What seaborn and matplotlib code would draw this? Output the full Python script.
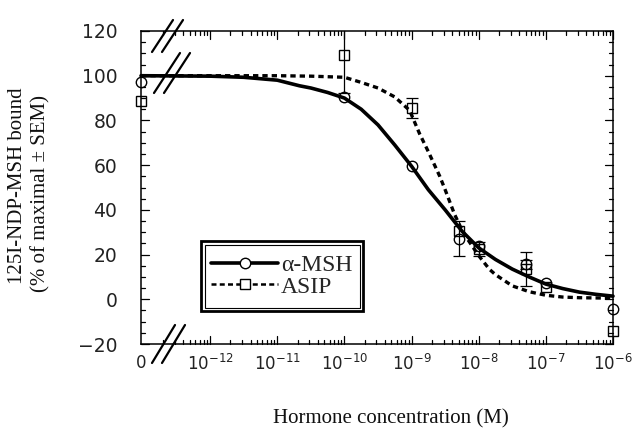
import numpy as np
import pandas as pd
import matplotlib
matplotlib.use("Agg")
import matplotlib.pyplot as plt
from matplotlib.lines import Line2D
from matplotlib.patches import Rectangle
import seaborn as sns

# ---------------- data ----------------
conc = [0, 1e-10, 1e-9, 5e-9, 1e-8, 5e-8, 1e-7, 1e-6]
msh_vals = [97.4, 90.7, 59.8, 27.1, 23.8, 15.7, 7.1, -4.4]
msh_err = [0, 0, 0, 7.7, 0, 2.0, 0, 0]
asip_vals = [88.5, 109.3, 85.7, 30.5, 22.5, 13.5, 5.3, -14.1]
asip_err = [0, 17.0, 4.5, 0, 3.0, 7.5, 0, 0]

# fitted curves (log10 concentration, % bound)
msh_curve_logx = [-13.03, -12.0, -11.5, -11.0, -10.67, -10.5, -10.25, -10.0, -9.75, -9.5,
                  -9.25, -9.0, -8.75, -8.5, -8.25, -8.0, -7.75, -7.5, -7.25, -7.0,
                  -6.75, -6.5, -6.25, -6.0]
msh_curve_y = [100.0, 99.8, 99.3, 98.0, 95.5, 94.5, 92.5, 90.0, 85.0, 78.0,
               69.0, 59.5, 49.0, 40.0, 30.5, 23.0, 17.8, 13.5, 10.0, 6.8,
               4.8, 3.2, 2.2, 1.4]
asip_curve_logx = [-13.03, -12.0, -11.0, -10.5, -10.0, -9.75, -9.5, -9.25, -9.03, -8.88,
                   -8.75, -8.58, -8.5, -8.36, -8.25, -8.18, -8.0, -7.84, -7.75, -7.5,
                   -7.25, -7.0, -6.75, -6.5, -6.0]
asip_curve_y = [100.0, 100.0, 100.0, 99.8, 99.3, 97.0, 94.5, 90.5, 84.5, 74.0,
                66.0, 55.0, 49.0, 38.0, 31.0, 27.5, 19.5, 13.4, 11.0, 6.0,
                3.4, 1.8, 1.0, 0.7, 0.5]

xtick_labels = ["0", "10$^{-12}$", "10$^{-11}$", "10$^{-10}$", "10$^{-9}$",
                "10$^{-8}$", "10$^{-7}$", "10$^{-6}$"]
yticks = [-20, 0, 20, 40, 60, 80, 100, 120]
yminor = [v for v in range(-20, 121, 5) if v % 20]

# ---------------- style ----------------
sns.set_theme(style="ticks")
plt.rcParams["font.family"] = ["DejaVu Sans"]
plt.rcParams["mathtext.fontset"] = "custom"
plt.rcParams["mathtext.rm"] = "DejaVu Sans"
plt.rcParams["mathtext.default"] = "regular"
plt.rcParams.update({
    "xtick.direction": "in", "ytick.direction": "in",
    "xtick.color": "black", "ytick.color": "black",
    "xtick.labelcolor": "#222222", "ytick.labelcolor": "#222222",
    "xtick.labelsize": 12, "ytick.labelsize": 13.5,
    "xtick.major.pad": 7, "ytick.major.pad": 17,
    "axes.edgecolor": "black", "axes.linewidth": 1.1,
})

W, H = 634, 429
fig = plt.figure(figsize=(W / 100, H / 100), dpi=100)
L, R, T, B = 141, 613, 31, 344
ax = fig.add_axes([L / W, 1 - B / H, (R - L) / W, (B - T) / H])

XMIN, XMAX = 10 ** -13.03, 1e-6
ax.set_xscale("log")

def xpos(c):
    return XMIN if c == 0 else c

# curves
df_msh = pd.DataFrame({"x": 10 ** np.array(msh_curve_logx), "y": msh_curve_y})
df_asip = pd.DataFrame({"x": 10 ** np.array(asip_curve_logx), "y": asip_curve_y})
sns.lineplot(data=df_msh, x="x", y="y", ax=ax, color="black", lw=2.6,
             sort=False, estimator=None, solid_capstyle="round", clip_on=False)
sns.lineplot(data=df_asip, x="x", y="y", ax=ax, color="black", lw=2.4,
             sort=False, estimator=None, linestyle=(0, (1.6, 1.2)), clip_on=False)

# points
px = [xpos(c) for c in conc]
ax.plot(px, msh_vals, "o", ms=7.5, mfc="none", mec="black", mew=1.0, clip_on=False, zorder=5)
ax.plot(px, asip_vals, "s", ms=7.0, mfc="none", mec="black", mew=1.0, clip_on=False, zorder=5)
for vals, errs in ((msh_vals, msh_err), (asip_vals, asip_err)):
    ex = [p for p, e in zip(px, errs) if e > 0]
    ey = [v for v, e in zip(vals, errs) if e > 0]
    ee = [e for e in errs if e > 0]
    ax.errorbar(ex, ey, yerr=ee, fmt="none", ecolor="black", elinewidth=0.9,
                capsize=4, capthick=0.9, zorder=4)

ax.set_xlim(XMIN, XMAX)
ax.set_ylim(-20, 120)
xmajor = [XMIN] + [10.0 ** k for k in range(-12, -5)]
xminor = [m * 10.0 ** k for k in range(-13, -6) for m in range(2, 10)
          if XMIN < m * 10.0 ** k < XMAX]
ax.set_xticks(xmajor)
ax.set_xticklabels(xtick_labels)
ax.set_xticks(xminor, minor=True)
ax.set_xticklabels([], minor=True)
ax.set_yticks(yticks)
ax.set_yticks(yminor, minor=True)
ax.tick_params(which="both", length=0)
ax.set_xlabel("")
ax.set_ylabel("")

# tick marks drawn inward on all four spines
AW, AH = R - L, B - T
ytr = ax.get_yaxis_transform()
xtr = ax.get_xaxis_transform()
def tick_y(v, n):
    f = n / AW
    ax.add_line(Line2D([0, f], [v, v], transform=ytr, color="black", lw=0.9, clip_on=False))
    ax.add_line(Line2D([1 - f, 1], [v, v], transform=ytr, color="black", lw=0.9, clip_on=False))
def tick_x(v, n):
    f = n / AH
    ax.add_line(Line2D([v, v], [0, f], transform=xtr, color="black", lw=0.9, clip_on=False))
    ax.add_line(Line2D([v, v], [1 - f, 1], transform=xtr, color="black", lw=0.9, clip_on=False))
for v in yticks:
    tick_y(v, 8)
for v in yminor:
    tick_y(v, 4)
for v in xmajor[1:]:
    tick_x(v, 8)
for v in xminor:
    tick_x(v, 4)

serif = ["Liberation Serif", "DejaVu Serif"]
fig.text(391 / W, 1 - 419 / H, "Hormone concentration (M)", ha="center", va="center",
         fontsize=15, family=serif, color="#111111")
fig.text(17.5 / W, 1 - 186 / H, "125I-NDP-MSH bound", ha="center", va="center",
         rotation=90, fontsize=15, family=serif, color="#111111")
fig.text(41 / W, 1 - 193 / H, "(% of maximal \u00b1 SEM)", ha="center", va="center",
         rotation=90, fontsize=15, family=serif, color="#111111")

# legend with double frame
h1 = Line2D([], [], color="black", lw=2.6, marker="o", ms=7.5, mfc="white", mec="black", mew=1.0)
h2 = Line2D([], [], color="black", lw=1.8, linestyle=(0, (2, 1.3)), marker="s", ms=7,
            mfc="white", mec="black", mew=1.0)
leg = ax.legend([h1, h2], ["\u03b1-MSH", "ASIP"], loc="center",
                bbox_to_anchor=((282 - L) / (R - L), (B - 276) / (B - T)),
                frameon=False, handlelength=2.8, handletextpad=0.15, labelspacing=0.0,
                prop={"family": serif, "size": 17}, borderpad=0)
def px_rect(x0, y0, x1, y1, lw):
    fig.add_artist(Rectangle((x0 / W, 1 - y1 / H), (x1 - x0) / W, (y1 - y0) / H,
                             transform=fig.transFigure, fill=False, ec="black", lw=lw))
px_rect(201, 241, 363, 311, 2.0)
px_rect(204.5, 244.5, 359.5, 307.5, 0.8)

# axis-break marks
def brk(x0, y0, x1, y1):
    fig.add_artist(Line2D([x0 / W, x1 / W], [1 - y0 / H, 1 - y1 / H],
                          transform=fig.transFigure, color="black", lw=1.6))
for dx in (0, 10):
    brk(152 + dx, 52, 173 + dx, 20)
    brk(154 + dx, 93, 180 + dx, 53)
    brk(152 + dx, 363, 175 + dx, 325)

fig.savefig("out.png", dpi=100, facecolor="white")
